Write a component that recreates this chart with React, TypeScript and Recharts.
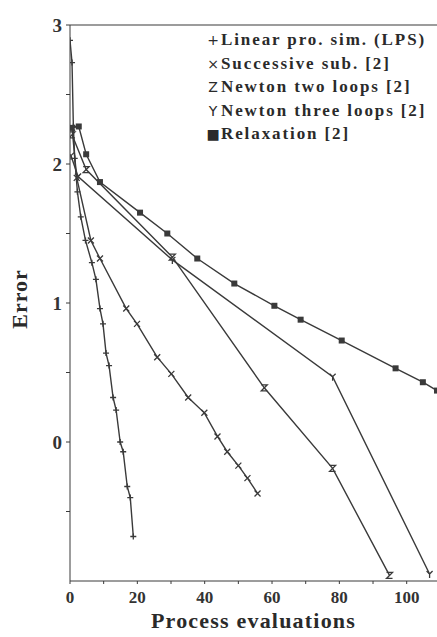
import { LineChart, Line, XAxis, YAxis, ReferenceLine } from "recharts";

type Pt = { x: number; y: number };

// values (x = process evaluations, y = error)
const lpsPoints: Pt[] = [
  { x: 0, y: 2.89 }, { x: 0.6, y: 2.73 }, { x: 1.0, y: 2.27 }, { x: 1.4, y: 2.04 },
  { x: 2.2, y: 1.8 }, { x: 3.2, y: 1.62 }, { x: 4.6, y: 1.45 }, { x: 6.5, y: 1.29 },
  { x: 7.7, y: 1.17 }, { x: 8.9, y: 0.96 }, { x: 9.8, y: 0.85 }, { x: 10.7, y: 0.64 },
  { x: 11.6, y: 0.55 }, { x: 12.8, y: 0.32 }, { x: 13.7, y: 0.23 }, { x: 14.9, y: 0.0 },
  { x: 15.8, y: -0.07 }, { x: 17.0, y: -0.32 }, { x: 17.9, y: -0.4 }, { x: 18.8, y: -0.68 },
];

const successivePoints: Pt[] = [
  { x: 0.6, y: 2.26 }, { x: 2.0, y: 1.9 }, { x: 6.2, y: 1.45 }, { x: 8.9, y: 1.32 },
  { x: 16.7, y: 0.96 }, { x: 19.9, y: 0.85 }, { x: 25.9, y: 0.61 }, { x: 30.1, y: 0.49 },
  { x: 35.1, y: 0.32 }, { x: 39.9, y: 0.21 }, { x: 43.8, y: 0.04 }, { x: 46.7, y: -0.07 },
  { x: 50.0, y: -0.17 }, { x: 52.7, y: -0.26 }, { x: 55.7, y: -0.37 },
];

const newtonTwoPoints: Pt[] = [
  { x: 0.6, y: 2.21 }, { x: 4.8, y: 1.96 }, { x: 30.4, y: 1.33 }, { x: 57.7, y: 0.39 },
  { x: 78.0, y: -0.19 }, { x: 94.9, y: -0.96 },
];

const newtonThreePoints: Pt[] = [
  { x: 0.3, y: 2.06 }, { x: 2.4, y: 1.91 }, { x: 30.4, y: 1.31 }, { x: 78.0, y: 0.47 },
  { x: 106.8, y: -0.95 },
];

const relaxationPoints: Pt[] = [
  { x: 0.5, y: 2.26 }, { x: 2.6, y: 2.27 }, { x: 4.8, y: 2.07 }, { x: 8.9, y: 1.87 },
  { x: 20.8, y: 1.65 }, { x: 28.9, y: 1.5 }, { x: 37.8, y: 1.32 }, { x: 48.8, y: 1.14 },
  { x: 60.7, y: 0.98 }, { x: 68.5, y: 0.88 }, { x: 80.7, y: 0.73 }, { x: 96.7, y: 0.53 },
  { x: 104.8, y: 0.43 }, { x: 109, y: 0.37 },
];

const xTicks = [0, 10, 20, 30, 40, 50, 60, 70, 80, 90, 100];
const yTicks = [-0.5, 0, 0.5, 1, 1.5, 2, 2.5, 3];

const legendLabels = [
  { sym: "+", text: "Linear pro. sim. (LPS)" },
  { sym: "×", text: "Successive sub. [2]" },
  { sym: "Z", text: "Newton two loops [2]" },
  { sym: "Y", text: "Newton three loops [2]" },
  { sym: "■", text: "Relaxation [2]" },
];

const INK = "#3a3a3a";
const serif = "Liberation Serif, Times New Roman, DejaVu Serif, serif";

const PlusDot = (p: any) => (
  <path key={p.key} d={`M${p.cx - 3},${p.cy}H${p.cx + 3}M${p.cx},${p.cy - 3}V${p.cy + 3}`} stroke={INK} strokeWidth={1.3} fill="none" />
);
const CrossDot = (p: any) => (
  <path key={p.key} d={`M${p.cx - 3},${p.cy - 3}L${p.cx + 3},${p.cy + 3}M${p.cx + 3},${p.cy - 3}L${p.cx - 3},${p.cy + 3}`} stroke={INK} strokeWidth={1.3} fill="none" />
);
const ZDot = (p: any) => (
  <path key={p.key} d={`M${p.cx - 3},${p.cy - 3}H${p.cx + 3}L${p.cx - 3},${p.cy + 3}H${p.cx + 3}`} stroke={INK} strokeWidth={1.3} fill="none" />
);
const YDot = (p: any) => (
  <path key={p.key} d={`M${p.cx - 3},${p.cy - 3}L${p.cx},${p.cy}L${p.cx + 3},${p.cy - 3}M${p.cx},${p.cy}V${p.cy + 4}`} stroke={INK} strokeWidth={1.3} fill="none" />
);
const SquareDot = (p: any) => (
  <rect key={p.key} x={p.cx - 3} y={p.cy - 3} width={6} height={6} fill={INK} />
);

export default function App() {
  return (
    <div style={{ position: "absolute", left: 0, top: 0, width: 437, height: 637, background: "#fff", fontFamily: serif }}>
      <LineChart width={437} height={637} margin={{ top: 25, right: 0, left: 30, bottom: 26 }}>
        <XAxis
          type="number"
          dataKey="x"
          domain={[0, 109]}
          ticks={xTicks}
          height={30}
          tickSize={3}
          tickMargin={7}
          tickFormatter={(v: number) => (v % 20 === 0 ? String(v) : "")}
          tick={{ fontSize: 17, fontWeight: 700, fill: "#333", fontFamily: serif }}
          stroke={INK}
          allowDataOverflow
        />
        <YAxis
          type="number"
          domain={[-1, 3]}
          ticks={yTicks}
          width={40}
          tickSize={4}
          tickMargin={4}
          tickFormatter={(v: number) => (Number.isInteger(v) ? String(v) : "")}
          tick={{ fontSize: 19, fontWeight: 700, fill: "#333", fontFamily: serif }}
          stroke={INK}
          allowDataOverflow
        />
        <ReferenceLine y={3} stroke={INK} strokeWidth={1.2} />
        <Line data={lpsPoints} dataKey="y" stroke={INK} strokeWidth={1.4} dot={PlusDot} isAnimationActive={false} type="linear" />
        <Line data={successivePoints} dataKey="y" stroke={INK} strokeWidth={1.4} dot={CrossDot} isAnimationActive={false} type="linear" />
        <Line data={newtonTwoPoints} dataKey="y" stroke={INK} strokeWidth={1.4} dot={ZDot} isAnimationActive={false} type="linear" />
        <Line data={newtonThreePoints} dataKey="y" stroke={INK} strokeWidth={1.4} dot={YDot} isAnimationActive={false} type="linear" />
        <Line data={relaxationPoints} dataKey="y" stroke={INK} strokeWidth={1.4} dot={SquareDot} isAnimationActive={false} type="linear" />
      </LineChart>

      {legendLabels.map((item, i) => (
        <div
          key={item.text}
          style={{
            position: "absolute",
            left: 205,
            top: 30 + i * 23.5,
            fontSize: 17,
            fontWeight: 700,
            letterSpacing: 1.9,
            color: "#2a2a2a",
            whiteSpace: "nowrap",
            lineHeight: "20px",
            fontFamily: serif,
          }}
        >
          <span style={{ display: "inline-block", width: 16, textAlign: "center", fontWeight: 400, fontFamily: "DejaVu Sans, sans-serif", fontSize: 14, letterSpacing: 0 }}>
            {item.sym}
          </span>
          {item.text}
        </div>
      ))}

      <div
        style={{
          position: "absolute",
          left: 20,
          top: 299,
          transform: "translate(-50%, -50%) rotate(-90deg)",
          fontSize: 22,
          fontWeight: 700,
          letterSpacing: 1,
          color: "#2a2a2a",
          fontFamily: serif,
        }}
      >
        Error
      </div>
      <div
        style={{
          position: "absolute",
          left: 0,
          width: 437,
          paddingLeft: 70,
          boxSizing: "border-box",
          top: 608,
          textAlign: "center",
          fontSize: 22,
          fontWeight: 700,
          letterSpacing: 1.2,
          color: "#2a2a2a",
          fontFamily: serif,
        }}
      >
        Process evaluations
      </div>
    </div>
  );
}
